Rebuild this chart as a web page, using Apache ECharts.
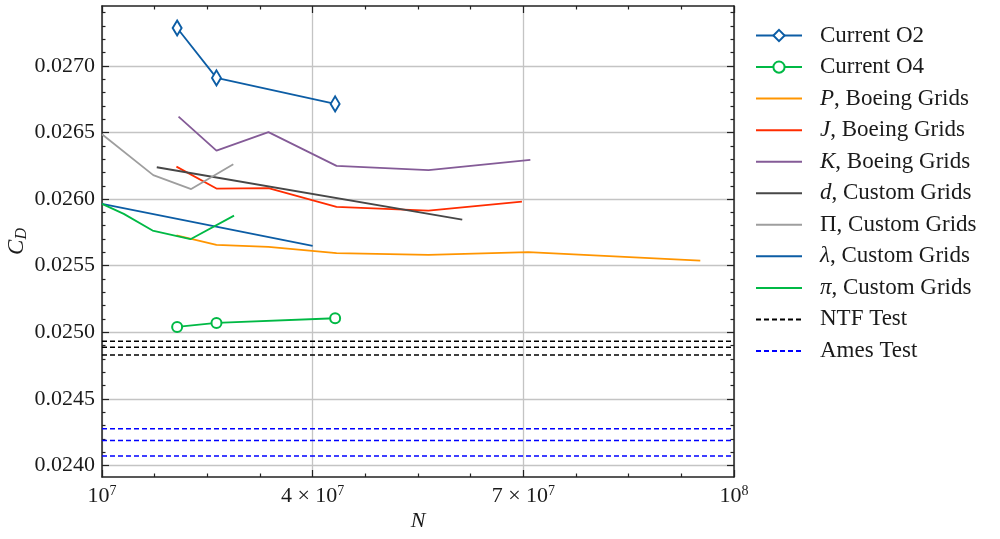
<!DOCTYPE html>
<html>
<head>
<meta charset="utf-8">
<script src="https://cdn.jsdelivr.net/npm/echarts@6/dist/echarts.min.js"></script>
<style>
html,body{margin:0;padding:0;background:#fff;}
#chart{width:1000px;height:539px;}
</style>
</head>
<body>
<div id="chart"></div>
<script>
// ---- Data ----
const o2N  = [2.07e7, 2.63e7, 4.32e7];
const o2Cd = [0.027285, 0.026910, 0.026715];
const o4N  = [2.07e7, 2.63e7, 4.32e7];
const o4Cd = [0.025040, 0.025070, 0.025105];
const pN   = [2.06e7, 2.63e7, 3.37e7, 4.34e7, 5.65e7, 7.07e7, 9.52e7];
const pCd  = [0.025727, 0.025656, 0.025641, 0.025594, 0.025581, 0.025601, 0.025538];
const jN   = [2.06e7, 2.63e7, 3.37e7, 4.34e7, 5.65e7, 6.98e7];
const jCd  = [0.026244, 0.026079, 0.026082, 0.025941, 0.025914, 0.025981];
const kN   = [2.09e7, 2.63e7, 3.37e7, 4.34e7, 5.65e7, 7.10e7];
const kCd  = [0.026619, 0.026364, 0.026503, 0.026249, 0.026217, 0.026294];
const dN   = [1.78e7, 6.13e7];
const dCd  = [0.026239, 0.025846];
const bigPiN  = [1.0e7, 1.73e7, 2.27e7, 2.87e7];
const bigPiCd = [0.026487, 0.026180, 0.026075, 0.026262];
const lamN  = [1.0e7, 4.0e7];
const lamCd = [0.025964, 0.025649];
const piN   = [1.0e7, 1.31e7, 1.72e7, 2.26e7, 2.88e7];
const piCd  = [0.025964, 0.025889, 0.025764, 0.025699, 0.025876];
const ntfCd  = [0.024932, 0.024887, 0.024830];
const amesCd = [0.024275, 0.024187, 0.024070];

// ---- Axes / ticks ----
const xMin = 1e7, xMax = 1e8;
const yMin = 0.023913, yMax = 0.02745;
const xMajorTicks = [1e7, 4e7, 7e7, 1e8];
const xTickLabels = ['10{sup|7}', '4 × 10{sup|7}', '7 × 10{sup|7}', '10{sup|8}'];
const yMajorTicks = [0.0240, 0.0245, 0.0250, 0.0255, 0.0260, 0.0265, 0.0270];
const yTickLabels = ['0.0240', '0.0245', '0.0250', '0.0255', '0.0260', '0.0265', '0.0270'];

const xMinorTicks = [];
for (let i = 0; i < xMajorTicks.length - 1; i++) {
  const step = (xMajorTicks[i + 1] - xMajorTicks[i]) / 4;
  for (let k = 1; k < 4; k++) xMinorTicks.push(xMajorTicks[i] + k * step);
}
const yMinorTicks = [];
for (let k = 239; k <= 274; k++) {
  const v = k / 10000;
  if (v > yMin && v < yMax && k % 5 !== 0) yMinorTicks.push(v);
}

const FONT = 'Liberation Serif';
const TXT = '#1a1a1a';
const AX = '#222222';
const LW = 1.8;

const seriesDefs = [
  {name: 'Current O2', label: 'Current O2', x: o2N, y: o2Cd, color: '#0C5DA5', symbol: 'emptyDiamond', size: [9, 15]},
  {name: 'Current O4', label: 'Current O4', x: o4N, y: o4Cd, color: '#00B945', symbol: 'emptyCircle', size: 10},
  {name: 'P, Boeing Grids', label: '{i|P}, Boeing Grids', x: pN, y: pCd, color: '#FF9500'},
  {name: 'J, Boeing Grids', label: '{i|J}, Boeing Grids', x: jN, y: jCd, color: '#FF2C00'},
  {name: 'K, Boeing Grids', label: '{i|K}, Boeing Grids', x: kN, y: kCd, color: '#845B97'},
  {name: 'd, Custom Grids', label: '{i|d}, Custom Grids', x: dN, y: dCd, color: '#474747'},
  {name: 'Π, Custom Grids', label: 'Π, Custom Grids', x: bigPiN, y: bigPiCd, color: '#9e9e9e'},
  {name: 'λ, Custom Grids', label: '{i|λ}, Custom Grids', x: lamN, y: lamCd, color: '#0C5DA5'},
  {name: 'π, Custom Grids', label: '{i|π}, Custom Grids', x: piN, y: piCd, color: '#00B945'}
];
const labelMap = {};
seriesDefs.forEach(d => labelMap[d.name] = d.label);
labelMap['NTF Test'] = 'NTF Test';
labelMap['Ames Test'] = 'Ames Test';

const series = [];
seriesDefs.forEach(d => {
  series.push({
    name: d.name, type: 'line',
    data: d.x.map((v, i) => [v, d.y[i]]),
    lineStyle: {color: d.color, width: LW},
    itemStyle: {color: d.color, borderWidth: 1.6},
    symbol: d.symbol || 'none',
    symbolSize: d.size || 0,
    showSymbol: !!d.symbol,
    z: 3
  });
});
ntfCd.forEach(v => series.push({
  name: 'NTF Test', type: 'line', data: [[xMin, v], [xMax, v]],
  symbol: 'none', lineStyle: {color: '#000000', width: 1.5, type: [5, 3]}, itemStyle: {color: '#000'}, z: 2
}));
amesCd.forEach(v => series.push({
  name: 'Ames Test', type: 'line', data: [[xMin, v], [xMax, v]],
  symbol: 'none', lineStyle: {color: '#0000FF', width: 1.5, type: [5, 3]}, itemStyle: {color: '#0000FF'}, z: 2
}));

function xAxisDef(pos, major, withLabels) {
  return {
    type: 'value', position: pos, min: xMin, max: xMax,
    axisLine: {show: major, onZero: false, lineStyle: {color: AX, width: 1.5}},
    axisTick: {show: true, inside: true, length: major ? 7 : 3.5,
      customValues: major ? xMajorTicks : xMinorTicks,
      lineStyle: {color: AX, width: 1.2}},
    axisLabel: withLabels ? {
      show: true, customValues: xMajorTicks, margin: 7,
      formatter: v => { const i = xMajorTicks.indexOf(v); return i >= 0 ? xTickLabels[i] : ''; },
      fontFamily: FONT, fontSize: 22, color: TXT, lineHeight: 24,
      rich: {sup: {fontFamily: FONT, fontSize: 14, color: TXT, verticalAlign: 'top', lineHeight: 14}}
    } : {show: false},
    splitLine: {show: withLabels, lineStyle: {color: '#c4c4c4', width: 1.3}},
    minorTick: {show: false}, minorSplitLine: {show: false},
    name: withLabels ? 'N' : '', nameLocation: 'middle', nameGap: 33, nameMoveOverlap: false,
    nameTextStyle: {fontFamily: FONT, fontSize: 22, fontStyle: 'italic', color: TXT}
  };
}
function yAxisDef(pos, major, withLabels) {
  return {
    type: 'value', position: pos, min: yMin, max: yMax,
    axisLine: {show: major, onZero: false, lineStyle: {color: AX, width: 1.5}},
    axisTick: {show: true, inside: true, length: major ? 7 : 3.5,
      customValues: major ? yMajorTicks : yMinorTicks,
      lineStyle: {color: AX, width: 1.2}},
    axisLabel: withLabels ? {
      show: true, customValues: yMajorTicks, margin: 7,
      formatter: v => { const i = yMajorTicks.findIndex(t => Math.abs(t - v) < 1e-9); return i >= 0 ? yTickLabels[i] : ''; },
      fontFamily: FONT, fontSize: 22, color: TXT
    } : {show: false},
    splitLine: {show: withLabels, lineStyle: {color: '#c4c4c4', width: 1.3}},
    minorTick: {show: false}, minorSplitLine: {show: false},
    name: withLabels ? '{c|C}{d|D}' : '', nameLocation: 'middle', nameGap: 72, nameRotate: 90,
    nameMoveOverlap: false,
    nameTextStyle: {
      color: TXT,
      rich: {
        c: {fontFamily: FONT, fontSize: 23, fontStyle: 'italic', color: TXT, lineHeight: 26},
        d: {fontFamily: FONT, fontSize: 16, fontStyle: 'italic', color: TXT, verticalAlign: 'bottom', lineHeight: 26}
      }
    }
  };
}

const legendNames = seriesDefs.map(d => d.name).concat(['NTF Test', 'Ames Test']);
const symbolNames = ['Current O2', 'Current O4'];

const chart = echarts.init(document.getElementById('chart'), null, {renderer: 'canvas'});
chart.setOption({
  animation: false,
  backgroundColor: '#ffffff',
  grid: {left: 102, right: 266, top: 6, bottom: 62, containLabel: false, outerBoundsMode: 'none'},
  xAxis: [
    xAxisDef('bottom', true, true),
    xAxisDef('top', true, false),
    xAxisDef('bottom', false, false),
    xAxisDef('top', false, false)
  ],
  yAxis: [
    yAxisDef('left', true, true),
    yAxisDef('right', true, false),
    yAxisDef('left', false, false),
    yAxisDef('right', false, false)
  ],
  legend: {
    orient: 'vertical', left: 755, top: 24, padding: 0,
    itemWidth: 46, itemHeight: 14, itemGap: 8.55,
    data: legendNames.map(n => symbolNames.indexOf(n) >= 0 ? {name: n} : {name: n, itemStyle: {opacity: 0}}),
    formatter: name => labelMap[name] || name,
    textStyle: {
      fontFamily: FONT, fontSize: 23, color: TXT, lineHeight: 23, padding: [0, 0, 0, 13],
      rich: {i: {fontFamily: FONT, fontSize: 23, fontStyle: 'italic', color: TXT, lineHeight: 23}}
    }
  },
  series: series
});
</script>
</body>
</html>
